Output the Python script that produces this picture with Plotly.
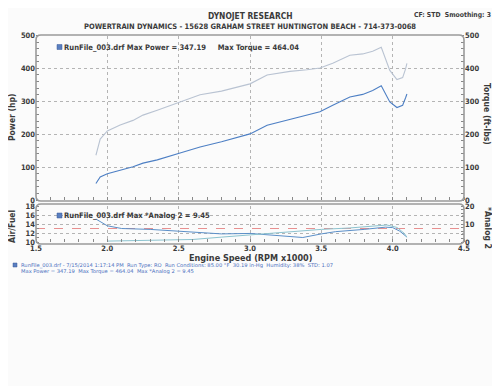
import plotly.graph_objects as go

# ---------------- data ----------------
rpm = [1.92, 1.95, 2.00, 2.09, 2.18, 2.25, 2.35, 2.51, 2.65, 2.80, 3.00, 3.12, 3.28,
       3.40, 3.49, 3.58, 3.70, 3.79, 3.86, 3.92, 3.955, 3.98, 4.03, 4.07, 4.09, 4.10]
power_hp = [50, 70, 80, 91, 101, 112, 122, 143, 161, 177, 201, 227, 244,
            257, 268, 288, 313, 321, 333, 347, 318, 298, 281, 288, 310, 322]
torque_ftlb = [136, 185, 210, 228, 242, 258, 273, 298, 320, 331, 353, 380, 391,
               396, 401, 416, 440, 444, 452, 464, 424, 394, 366, 372, 398, 415]

afr_rpm = [1.92, 2.00, 2.10, 2.30, 2.50, 2.70, 2.80, 3.00, 3.20, 3.37, 3.50, 3.60,
           3.80, 3.95, 4.00, 4.05, 4.10]
afr = [15.1, 13.6, 13.0, 12.8, 12.4, 12.0, 11.8, 11.9, 11.4, 11.0, 11.8, 12.3,
       12.8, 13.3, 13.2, 12.4, 11.1]
an2_rpm = [2.00, 2.30, 2.60, 2.80, 3.00, 3.30, 3.50, 3.70, 3.90, 3.96, 4.03, 4.08, 4.10]
analog2 = [0.5, 0.8, 1.4, 2.7, 4.0, 5.7, 7.0, 7.8, 8.9, 9.45, 8.1, 4.9, 2.7]
afr_target = 13.0

x_ticks = [1.5, 2.0, 2.5, 3.0, 3.5, 4.0, 4.5]
x_tick_text = ["1.5", "2.0", "2.5", "3.0", "3.5", "4.0", "4.5"]

# ---------------- layout geometry ----------------
W, H = 500, 386
OFF = 8  # page body margin offset of the rendered figure
def px(x):
    return (x - OFF) / W
def py(y):
    return 1 - (y - OFF) / H

XL, XR = 36, 464
TOP_T, TOP_B = 35.5, 200
BOT_T, BOT_B = 206, 242

TXT = "#3a3a3a"
FONT = "DejaVu Sans Condensed"
GRID = "#b4b4b4"
BORDER = "#9a9a9a"

fig = go.Figure()

fig.add_trace(go.Scatter(x=rpm, y=torque_ftlb, mode="lines", yaxis="y2", xaxis="x",
                         line=dict(color="#b9c3d2", width=1.1), showlegend=False))
fig.add_trace(go.Scatter(x=rpm, y=power_hp, mode="lines", yaxis="y", xaxis="x",
                         line=dict(color="#4d7fc4", width=1.1), showlegend=False))
fig.add_trace(go.Scatter(x=[1.5, 4.5], y=[afr_target, afr_target], mode="lines",
                         xaxis="x2", yaxis="y3",
                         line=dict(color="#e89090", width=1, dash="dash"), showlegend=False))
fig.add_trace(go.Scatter(x=an2_rpm, y=analog2, mode="lines", xaxis="x2", yaxis="y4",
                         line=dict(color="#8cc3cf", width=1), showlegend=False))
fig.add_trace(go.Scatter(x=afr_rpm, y=afr, mode="lines", xaxis="x2", yaxis="y3",
                         line=dict(color="#5b8fc8", width=1), showlegend=False))

tickfont = dict(family=FONT, size=7.5, color=TXT, weight="bold")
minor_kw = dict(ticks="inside", ticklen=3, tickcolor="#888", tickwidth=1, showgrid=False)

common_x = dict(range=[1.5, 4.5], domain=[px(XL), px(XR)], tickvals=x_ticks,
                showgrid=True, gridcolor=GRID, griddash="dot", gridwidth=1,
                zeroline=False, showline=False, ticks="", automargin=False,
                minor=dict(dtick=0.1, **minor_kw))

fig.update_layout(
    width=W, height=H, margin=dict(l=0, r=0, t=0, b=0, pad=0),
    paper_bgcolor="#fbfbfb", plot_bgcolor="rgba(0,0,0,0)",
    xaxis=dict(**common_x, anchor="y", showticklabels=False),
    xaxis2=dict(**common_x, anchor="y3", ticktext=x_tick_text, showticklabels=True,
                tickfont=tickfont, matches="x"),
    yaxis=dict(range=[0, 500], domain=[py(TOP_B), py(TOP_T)], anchor="x",
               tickvals=[0, 100, 200, 300, 400, 500], showgrid=True, gridcolor=GRID,
               griddash="dot", zeroline=False, tickfont=tickfont, ticks="",
               automargin=False, minor=dict(dtick=20, **minor_kw)),
    yaxis2=dict(range=[0, 500], overlaying="y", side="right", anchor="x",
                tickvals=[0, 100, 200, 300, 400, 500], showgrid=False, zeroline=False,
                tickfont=tickfont, ticks="", automargin=False,
                minor=dict(dtick=20, **minor_kw)),
    yaxis3=dict(range=[10, 18], domain=[py(BOT_B), py(BOT_T)], anchor="x2",
                tickvals=[10, 12, 14, 16, 18], showgrid=True, gridcolor=GRID,
                griddash="dot", zeroline=False, tickfont=tickfont, ticks="",
                automargin=False, minor=dict(dtick=1, **minor_kw)),
    yaxis4=dict(range=[0, 20], overlaying="y3", side="right", anchor="x2",
                tickvals=[0, 10, 20], showgrid=False, zeroline=False,
                tickfont=tickfont, ticks="", automargin=False,
                minor=dict(dtick=2, **minor_kw)),
)

def rounded_box(x0, y0, x1, y1, r=5):
    X0, X1 = px(x0), px(x1)
    Y0, Y1 = py(y0), py(y1)
    rx, ry = r / W, r / H
    return (f"M {X0+rx},{Y0} L {X1-rx},{Y0} Q {X1},{Y0} {X1},{Y0-ry} "
            f"L {X1},{Y1+ry} Q {X1},{Y1} {X1-rx},{Y1} L {X0+rx},{Y1} "
            f"Q {X0},{Y1} {X0},{Y1+ry} L {X0},{Y0-ry} Q {X0},{Y0} {X0+rx},{Y0} Z")

shapes = [
    dict(type="path", xref="paper", yref="paper", path=rounded_box(XL, TOP_T - 0.5, XR, TOP_B + 1),
         line=dict(color=BORDER, width=1.6)),
    dict(type="path", xref="paper", yref="paper", path=rounded_box(XL, BOT_T - 2, XR, BOT_B + 2),
         line=dict(color=BORDER, width=1.6)),
    dict(type="rect", xref="paper", yref="paper", x0=px(57), x1=px(62), y0=py(49.5), y1=py(44.5),
         fillcolor="#5a7fc0", line=dict(color="#3a5a9a", width=0.5)),
    dict(type="rect", xref="paper", yref="paper", x0=px(57), x1=px(62), y0=py(218), y1=py(213),
         fillcolor="#5a7fc0", line=dict(color="#3a5a9a", width=0.5)),
    dict(type="rect", xref="paper", yref="paper", x0=px(13), x1=px(17), y0=py(267), y1=py(263),
         fillcolor="#5a7fc0", line=dict(color="#3a5a9a", width=0.5)),
]
fig.update_layout(shapes=shapes)

def ann(text, x, y, size=8, color=TXT, bold=True, xanchor="center", angle=0, family=FONT):
    fig.add_annotation(text=text, x=px(x), y=py(y), xref="paper", yref="paper",
                       showarrow=False, xanchor=xanchor, yanchor="middle", textangle=angle,
                       borderpad=0, font=dict(family=family, size=size, color=color,
                                               weight="bold" if bold else "normal"))

ann("DYNOJET RESEARCH", 250, 16, size=8.4)
ann("CF: STD&nbsp;&nbsp;Smoothing: 3", 492, 15, size=6.8, xanchor="right")
ann("POWERTRAIN DYNAMICS - 15628 GRAHAM STREET HUNTINGTON BEACH - 714-373-0068", 249.5, 27, size=7.5)
ann("RunFile_003.drf Max Power = 347.19&nbsp;&nbsp;&nbsp;&nbsp;&nbsp;Max Torque = 464.04", 63, 47, size=7.6, xanchor="left")
ann("RunFile_003.drf Max *Analog 2 = 9.45", 63, 215.5, size=7.6, xanchor="left")
ann("Power (hp)", 12, 118, size=8.5, angle=-90)
ann("Torque (ft-lbs)", 487, 114, size=8.5, angle=90)
ann("Air/Fuel", 12, 227, size=8.5, angle=-90)
ann("*Analog 2", 488, 228, size=8.5, angle=90)
ann("Engine Speed (RPM x1000)", 250, 258, size=9)
ann("RunFile_003.drf - 7/15/2014 1:17:14 PM&nbsp;&nbsp;Run Type: RO&nbsp;&nbsp;Run Conditions: 85.00 °F&nbsp;&nbsp;30.19 in-Hg&nbsp;&nbsp;Humidity: 38%&nbsp;&nbsp;STD: 1.07",
    20, 265, size=5.2, color="#4a6fc0", bold=False, xanchor="left", family="DejaVu Sans")
ann("Max Power = 347.19&nbsp;&nbsp;Max Torque = 464.04&nbsp;&nbsp;Max *Analog 2 = 9.45",
    20, 271, size=5.2, color="#4a6fc0", bold=False, xanchor="left", family="DejaVu Sans")

fig.write_html("out.html")
